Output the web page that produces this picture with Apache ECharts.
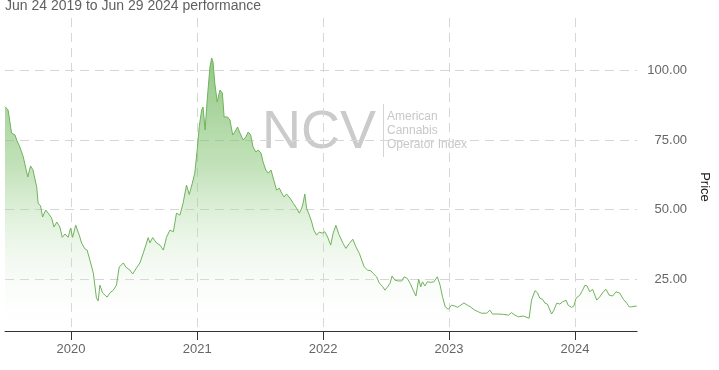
<!DOCTYPE html>
<html lang="en">
<head>
    <meta charset="UTF-8">
    <title>NCV performance</title>
    <style>
        body { margin: 0; background: #fff; }
        #chart { width: 719px; height: 370px; }
    </style>
</head>
<body>
<div id="chart"></div>

<script src="https://cdn.jsdelivr.net/npm/echarts@6/dist/echarts.min.js"></script>
<script>
    var titleText = 'Jun 24 2019 to Jun 29 2024 performance';
    var yearTicks = ['2020-01-01', '2021-01-01', '2022-01-01', '2023-01-01', '2024-01-01'];
    var priceTicks = [25, 50, 75, 100];

    // dates (roughly weekly)
    var dates = [
        '2019-06-24','2019-07-03','2019-07-13','2019-07-23','2019-07-28','2019-08-06','2019-08-16','2019-08-29',
        '2019-09-06','2019-09-13','2019-09-24','2019-09-28','2019-10-05','2019-10-11','2019-10-20','2019-10-27',
        '2019-11-06','2019-11-13','2019-11-21','2019-11-30','2019-12-07','2019-12-15','2019-12-24','2019-12-31',
        '2020-01-06','2020-01-15','2020-01-27','2020-02-01','2020-02-11','2020-02-17','2020-02-25','2020-03-06',
        '2020-03-15','2020-03-20','2020-03-25','2020-04-02','2020-04-09','2020-04-15','2020-04-23','2020-05-03',
        '2020-05-12','2020-05-20','2020-06-01','2020-06-08','2020-06-20','2020-06-28','2020-07-09','2020-07-19',
        '2020-07-29','2020-08-12','2020-08-17','2020-08-25','2020-09-05','2020-09-15','2020-09-25','2020-10-04',
        '2020-10-14','2020-10-24','2020-11-02','2020-11-12','2020-11-21','2020-12-01','2020-12-09','2020-12-18',
        '2020-12-25','2021-01-01','2021-01-07','2021-01-14','2021-01-18','2021-01-24','2021-01-30','2021-02-07',
        '2021-02-12','2021-02-16','2021-02-21','2021-02-28','2021-03-08','2021-03-15','2021-03-20','2021-03-30',
        '2021-04-06','2021-04-14','2021-04-20','2021-04-28','2021-05-05','2021-05-14','2021-05-22','2021-05-29',
        '2021-06-05','2021-06-12','2021-06-20','2021-06-27','2021-07-05','2021-07-11','2021-07-19','2021-07-26',
        '2021-08-03','2021-08-11','2021-08-19','2021-08-27','2021-09-03','2021-09-10','2021-09-17','2021-09-27',
        '2021-10-06','2021-10-16','2021-10-24','2021-10-31','2021-11-04','2021-11-09','2021-11-14','2021-11-22',
        '2021-11-29','2021-12-05','2021-12-13','2021-12-21','2021-12-29','2022-01-06','2022-01-14','2022-01-23',
        '2022-01-30','2022-02-07','2022-02-16','2022-02-28','2022-03-08','2022-03-18','2022-03-28','2022-04-06',
        '2022-04-16','2022-04-23','2022-04-30','2022-05-10','2022-05-19','2022-05-26','2022-06-05','2022-06-13',
        '2022-06-23','2022-06-29','2022-07-07','2022-07-14','2022-07-20','2022-07-28','2022-08-07','2022-08-17',
        '2022-08-24','2022-09-02','2022-09-10','2022-09-19','2022-09-27','2022-10-05','2022-10-11','2022-10-16',
        '2022-10-23','2022-10-30','2022-11-09','2022-11-18','2022-11-28','2022-12-06','2022-12-13','2022-12-21',
        '2022-12-30','2023-01-08','2023-01-18','2023-01-25','2023-02-04','2023-02-13','2023-02-23','2023-03-05',
        '2023-03-14','2023-03-27','2023-04-05','2023-04-20','2023-04-29','2023-05-07','2023-05-23','2023-06-07',
        '2023-06-22','2023-07-01','2023-07-11','2023-07-21','2023-08-04','2023-08-21','2023-08-28','2023-09-07',
        '2023-09-14','2023-09-21','2023-09-29','2023-10-06','2023-10-13','2023-10-18','2023-10-25','2023-11-01',
        '2023-11-09','2023-11-18','2023-11-26','2023-12-06','2023-12-12','2023-12-22','2023-12-29','2024-01-04',
        '2024-01-15','2024-01-23','2024-01-30','2024-02-05','2024-02-13','2024-02-21','2024-03-04','2024-03-13',
        '2024-03-23','2024-03-31','2024-04-09','2024-04-19','2024-04-29','2024-05-10','2024-05-20','2024-05-30',
        '2024-06-06','2024-06-13','2024-06-28'
    ];
    var prices = [
        87.0, 85.8, 77.5, 76.8, 75.0, 72.5, 68.9, 61.7,
        65.7, 64.3, 58.0, 52.3, 51.3, 47.3, 49.8, 48.7,
        47.0, 43.7, 45.5, 43.7, 40.0, 41.2, 40.0, 43.3,
        40.0, 44.4, 40.1, 37.9, 35.8, 35.4, 31.8, 27.1,
        18.2, 17.1, 22.8, 20.0, 19.2, 18.5, 20.0, 21.0,
        22.8, 29.3, 30.8, 29.3, 28.2, 26.8, 29.0, 30.8,
        34.4, 39.9, 38.0, 39.9, 38.0, 37.2, 35.4, 40.0,
        42.6, 42.0, 48.7, 48.0, 52.2, 58.8, 55.4, 59.5,
        63.1, 71.4, 79.9, 85.8, 86.9, 78.6, 89.4, 101.3,
        104.5, 103.0, 95.5, 88.7, 93.0, 91.9, 83.3, 83.3,
        82.2, 76.8, 77.9, 79.7, 77.5, 75.0, 76.1, 77.9,
        76.8, 72.5, 70.7, 71.4, 70.3, 67.1, 64.2, 63.1,
        64.2, 60.6, 57.0, 57.7, 55.9, 54.5, 55.6, 54.1,
        52.3, 50.5, 48.7, 50.5, 52.3, 55.6, 50.5, 48.0,
        45.5, 42.6, 40.8, 41.9, 41.5, 42.0, 40.1, 37.2,
        41.5, 44.3, 41.0, 37.8, 36.0, 37.8, 39.3, 36.6,
        34.2, 31.8, 29.4, 28.2, 28.0, 27.0, 25.8, 23.5,
        22.2, 21.0, 22.2, 23.5, 26.1, 24.6, 24.3, 24.3,
        25.8, 25.2, 23.5, 21.0, 18.9, 24.9, 22.2, 24.0,
        22.5, 24.0, 23.8, 24.0, 25.8, 22.8, 18.6, 15.0,
        14.1, 15.6, 15.3, 14.8, 15.6, 16.4, 15.6, 14.9,
        14.0, 13.2, 12.7, 12.7, 13.8, 12.4, 12.4, 12.3,
        12.0, 12.9, 12.0, 11.4, 11.7, 10.9, 17.4, 20.8,
        20.1, 18.1, 17.7, 16.3, 16.0, 15.3, 12.4, 13.8,
        16.3, 16.0, 16.8, 17.4, 15.6, 14.8, 15.3, 18.1,
        19.2, 21.0, 22.8, 22.5, 20.4, 21.3, 17.4, 18.6,
        20.4, 21.3, 19.2, 18.9, 20.4, 19.9, 17.7, 16.3,
        15.0, 15.0, 15.3
    ];

    // 'YYYY-MM-DD' -> UTC ms
    function toTime(s) {
        var p = s.split('-');
        return Date.UTC(+p[0], +p[1] - 1, +p[2]);
    }

    var seriesData = [];
    for (var i = 0; i < dates.length; i++) {
        seriesData.push([toTime(dates[i]), prices[i]]);
    }
    var yearTickTimes = yearTicks.map(toTime);

    var myChart = echarts.init(document.getElementById('chart'));

    var gridDash = { color: '#d6d6d6', width: 1, type: [9, 6] };

    var option = {
        animation: false,
        textStyle: { fontFamily: 'Liberation Sans, Arial, sans-serif' },
        title: {
            text: titleText,
            left: 5,
            top: -1,
            padding: 0,
            textStyle: { fontSize: 14, fontWeight: 'normal', color: '#606060' }
        },
        grid: { left: 5, right: 81, top: 18, bottom: 39 },
        // NCV watermark
        graphic: [
            {
                type: 'text', left: 262, top: 106, silent: true,
                style: { text: 'NCV', font: '54px "Liberation Sans", Arial', fill: '#cbcbcb' }
            },
            {
                type: 'line', silent: true,
                shape: { x1: 383.5, y1: 104, x2: 383.5, y2: 157 },
                style: { stroke: '#d4d4d4', lineWidth: 1 }
            },
            {
                type: 'text', left: 387, top: 110, silent: true,
                style: {
                    text: 'American\nCannabis\nOperator Index',
                    font: '12px "Liberation Sans", Arial', fill: '#c8c8c8', lineHeight: 14
                }
            }
        ],
        xAxis: {
            type: 'value',
            min: toTime('2019-06-24'),
            max: toTime('2024-06-29'),
            axisLine: { lineStyle: { color: '#333', width: 1 } },
            axisTick: { show: true, length: 9, lineStyle: { color: '#333' }, customValues: yearTickTimes },
            axisLabel: {
                customValues: yearTickTimes,
                margin: 12,
                fontSize: 13,
                color: '#666',
                formatter: function (v) { return String(new Date(v).getUTCFullYear()); }
            },
            splitLine: { show: true, lineStyle: gridDash }
        },
        yAxis: {
            type: 'value',
            position: 'right',
            min: 6.3,
            max: 118.9,
            name: 'Price',
            nameLocation: 'middle',
            nameRotate: -90,
            nameGap: 56,
            nameTextStyle: { fontSize: 13, color: '#222', padding: [0, 0, 0, 25] },
            axisLine: { show: false },
            axisTick: { show: false, customValues: priceTicks },
            axisLabel: {
                customValues: priceTicks,
                align: 'right',
                margin: 50,
                fontSize: 13,
                color: '#666',
                padding: [0, 0, 9, 0],
                formatter: function (v) { return v.toFixed(2); }
            },
            splitLine: { show: true, lineStyle: gridDash }
        },
        series: [{
            name: 'NCV',
            type: 'line',
            data: seriesData,
            showSymbol: false,
            silent: true,
            lineStyle: { color: '#6fb25c', width: 1 },
            areaStyle: {
                color: new echarts.graphic.LinearGradient(0, 0, 0, 1, [
                    { offset: 0, color: 'rgba(100,175,80,1)' },
                    { offset: 0.4, color: 'rgba(135,198,118,0.72)' },
                    { offset: 1, color: 'rgba(255,255,255,0.05)' }
                ])
            }
        }]
    };
    myChart.setOption(option);
</script>
</body>
</html>
